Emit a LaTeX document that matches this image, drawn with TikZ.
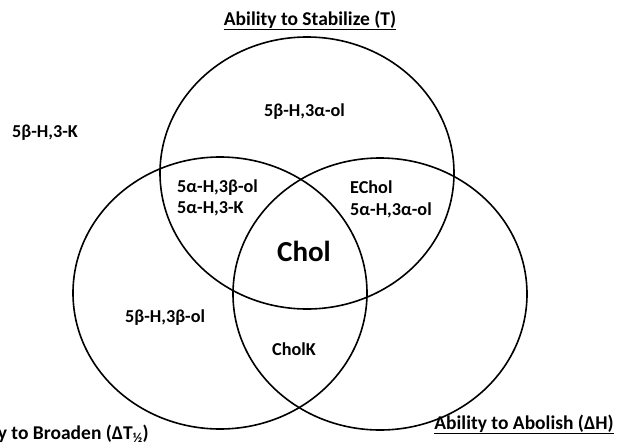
\documentclass[tikz,border=0pt]{standalone}
\usepackage{fontspec}
\setmainfont{Carlito}
\usepackage{tikz}
\usetikzlibrary{shapes.geometric}

\begin{document}
\begin{tikzpicture}[x=1pt, y=-1pt,
  set/.style={ellipse, draw, line width=1.6pt, minimum width=294pt, minimum height=272pt, inner sep=0pt},
  lbl/.style={anchor=base west, inner sep=0pt, font=\fontsize{18.2}{21}\selectfont\bfseries},
  head/.style={anchor=base, inner sep=0pt, font=\fontsize{19.5}{22}\selectfont\bfseries}]
\clip (0,0) rectangle (618,442);

% Three sets
\node[set] (stab) at (307,173) {};
\node[set] (brd) at (220,293) {};
\node[set] (abol) at (380,294) {};

% Set titles
\node[head] (t-stab) at (310,25) {\underline{Ability to Stabilize (T)}};
\node[head, anchor=base east] (t-brd) at (149,439) {\underline{Ability to Broaden (ΔT\textsubscript{½})}};
\node[head] (t-abol) at (524,429) {\underline{Ability to Abolish (ΔH)}};

% Members
\node[lbl] (b3k) at (12,137) {5β-H,3-K};
\node[lbl] (b3a) at (264,116) {5β-H,3α-ol};
\node[lbl] (a3b) at (177,192) {5α-H,3β-ol};
\node[lbl] (a3k) at (177,213) {5α-H,3-K};
\node[lbl] (echol) at (350,193) {EChol};
\node[lbl] (a3a) at (350,215) {5α-H,3α-ol};
\node[lbl, font=\fontsize{29}{32}\selectfont\bfseries] (chol) at (277,261) {Chol};
\node[lbl] (b3bol) at (125,322) {5β-H,3β-ol};
\node[lbl] (cholk) at (272,355) {CholK};

\end{tikzpicture}
\end{document}
